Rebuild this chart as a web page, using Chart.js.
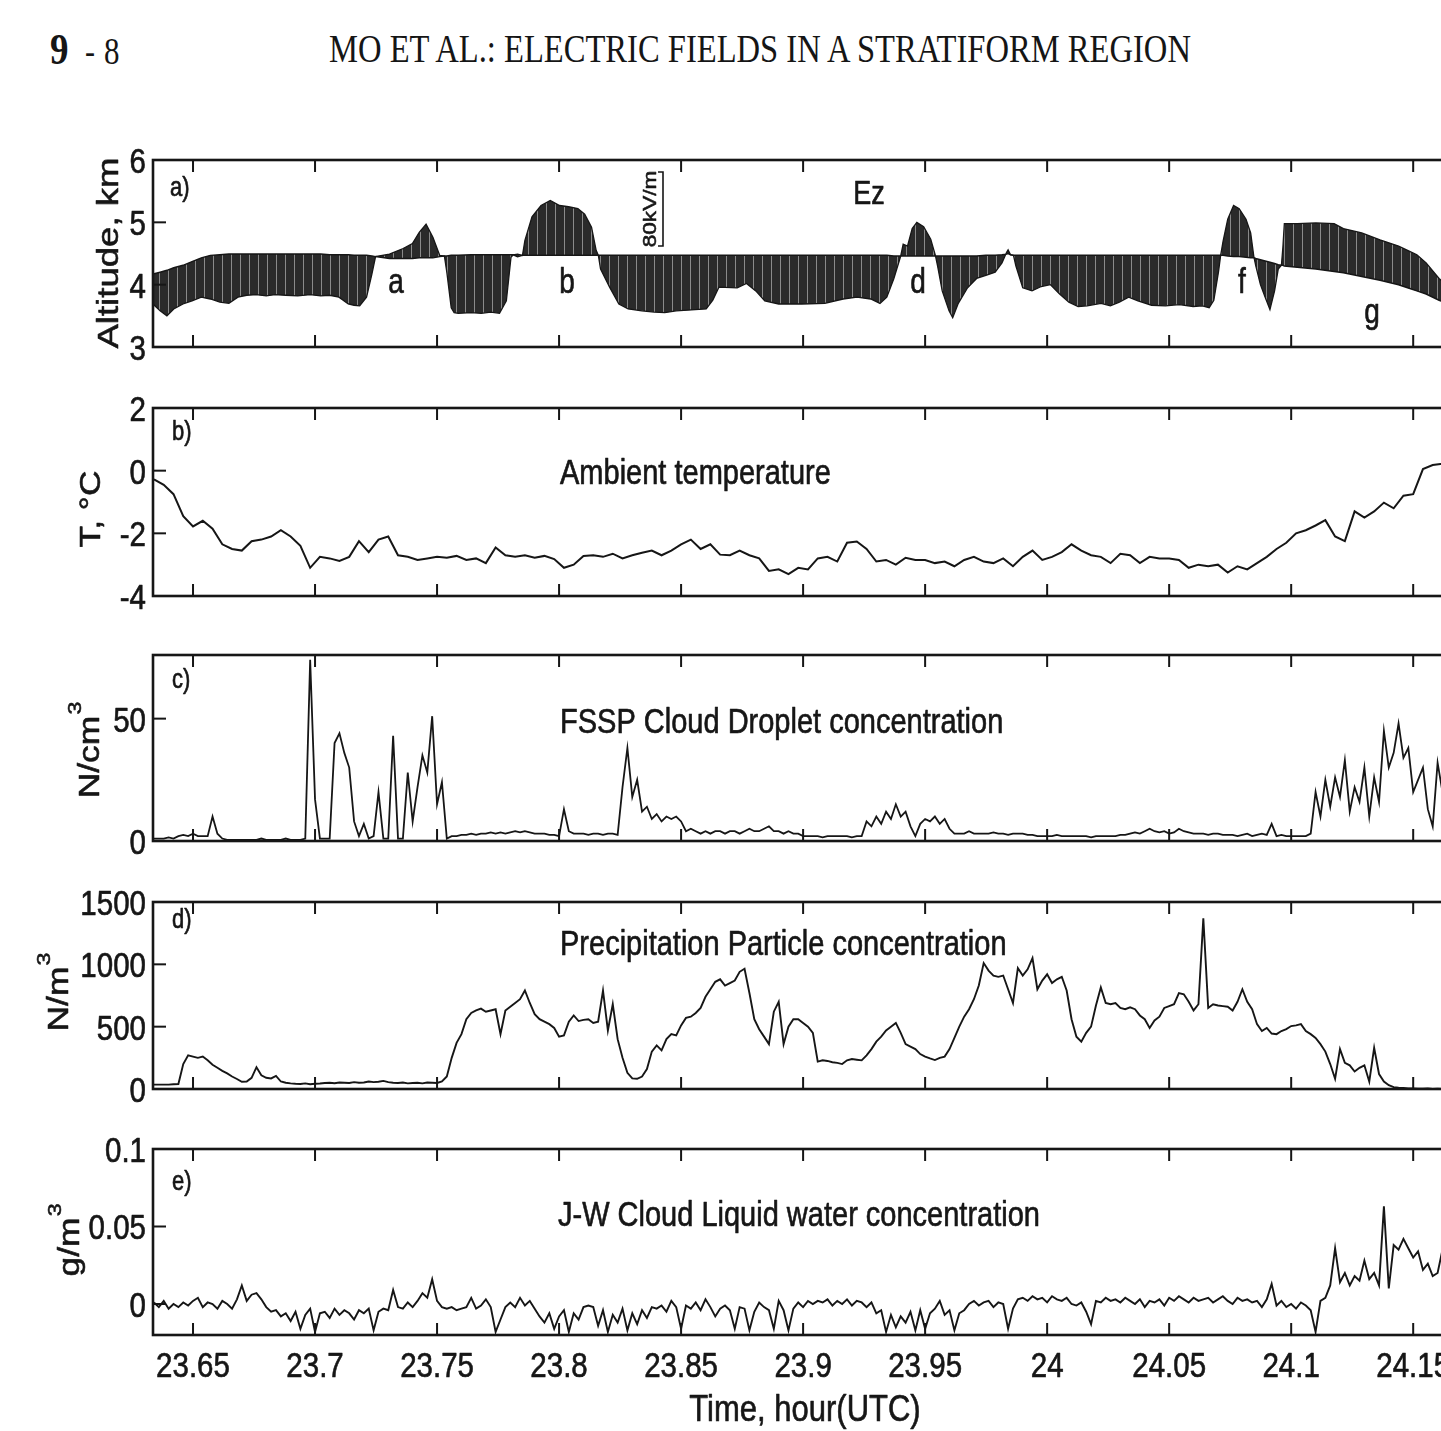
<!DOCTYPE html>
<html><head><meta charset="utf-8">
<script src="https://cdn.jsdelivr.net/npm/chart.js@4.4.0/dist/chart.umd.min.js"></script>
<style>
html,body{margin:0;padding:0;background:#fff;width:1441px;height:1431px;overflow:hidden;}
#wrap{position:relative;width:1441px;height:1431px;overflow:hidden;background:#fff;}
#wrap canvas{position:absolute;left:0;}
.hdr{position:absolute;font-family:"Liberation Serif","Times New Roman",serif;color:#151515;transform:scaleY(1.22);transform-origin:0 0;white-space:nowrap;line-height:1;}
</style></head><body><div id="wrap">
<div class="hdr" style="left:50px;top:26px;font-size:37px;font-weight:bold;">9</div>
<div class="hdr" style="left:85px;top:32px;font-size:30px;">-</div>
<div class="hdr" style="left:104px;top:32px;font-size:31px;">8</div>
<div class="hdr" style="left:260px;top:29px;width:1000px;text-align:center;font-size:32.6px;">MO ET AL.: ELECTRIC FIELDS IN A STRATIFORM REGION</div>
</div>
<script>
// ---------------- DATA ----------------
const xTickVals = [23.65, 23.7, 23.75, 23.8, 23.85, 23.9, 23.95, 24, 24.05, 24.1, 24.15];
const X_MIN = 23.6336, X_MAX = 24.17;

// panel a) Ez along the flight track: flight altitude (km) and Ez trace (altitude + scaled Ez, km)
const ezTime = [
 23.6336,23.6365,23.6393,23.6421,23.6459,23.6496,23.6534,23.6571,23.6610,23.6647,
 23.6684,23.6720,23.6759,23.6800,23.6835,23.6880,23.6929,23.6980,23.7023,23.7060,
 23.7098,23.7136,23.7160,23.7183,23.7211,23.7233,23.7248,23.7305,23.7361,23.7399,
 23.7427,23.7455,23.7483,23.7511,23.7530,23.7540,23.7558,23.7570,23.7587,23.7640,
 23.7681,23.7720,23.7756,23.7784,23.7803,23.7812,23.7830,23.7850,23.7860,23.7889,
 23.7926,23.7964,23.8002,23.8039,23.8077,23.8105,23.8133,23.8152,23.8161,23.8170,
 23.8207,23.8245,23.8283,23.8339,23.8390,23.8433,23.8480,23.8527,23.8603,23.8630,
 23.8655,23.8730,23.8768,23.8806,23.8843,23.8900,23.8994,23.9089,23.9164,23.9221,
 23.9277,23.9315,23.9343,23.9372,23.9400,23.9410,23.9428,23.9447,23.9466,23.9494,
 23.9523,23.9542,23.9551,23.9570,23.9598,23.9613,23.9636,23.9674,23.9711,23.9749,
 23.9787,23.9815,23.9834,23.9840,23.9850,23.9862,23.9872,23.9900,23.9938,23.9976,
 24.0013,24.0051,24.0089,24.0127,24.0164,24.0221,24.0259,24.0296,24.0334,24.0372,
 24.0428,24.0485,24.0542,24.0598,24.0636,24.0664,24.0683,24.0702,24.0711,24.0721,
 24.0740,24.0764,24.0787,24.0815,24.0834,24.0847,24.0855,24.0874,24.0893,24.0913,
 24.0932,24.0947,24.0960,24.0966,24.0972,24.1025,24.1101,24.1176,24.1214,24.1289,
 24.1364,24.1440,24.1477,24.1515,24.1553,24.1606,24.1620];
const flightAlt = [
 4.17,4.20,4.23,4.27,4.31,4.37,4.43,4.47,4.48,4.49,
 4.49,4.49,4.49,4.49,4.49,4.49,4.49,4.49,4.49,4.48,
 4.48,4.48,4.47,4.47,4.47,4.46,4.45,4.42,4.42,4.42,
 4.43,4.43,4.43,4.45,4.46,4.46,4.47,4.47,4.47,4.48,
 4.48,4.48,4.48,4.48,4.48,4.48,4.45,4.47,4.47,4.47,
 4.47,4.47,4.47,4.47,4.47,4.47,4.47,4.47,4.47,4.47,
 4.47,4.47,4.47,4.47,4.47,4.47,4.47,4.47,4.47,4.47,
 4.47,4.47,4.47,4.47,4.47,4.47,4.47,4.47,4.47,4.47,
 4.47,4.47,4.47,4.46,4.46,4.46,4.46,4.46,4.46,4.46,
 4.46,4.46,4.46,4.46,4.46,4.46,4.46,4.46,4.46,4.47,
 4.47,4.48,4.49,4.50,4.48,4.47,4.47,4.47,4.47,4.47,
 4.47,4.47,4.47,4.47,4.47,4.47,4.47,4.47,4.47,4.47,
 4.47,4.47,4.47,4.47,4.47,4.47,4.47,4.47,4.47,4.47,
 4.46,4.45,4.45,4.44,4.43,4.43,4.42,4.40,4.38,4.36,
 4.34,4.32,4.31,4.31,4.30,4.28,4.25,4.21,4.19,4.13,
 4.07,4.00,3.95,3.90,3.85,3.75,3.73];
const ezTrace = [
 3.69,3.58,3.50,3.61,3.69,3.74,3.80,3.77,3.72,3.70,
 3.80,3.83,3.84,3.82,3.84,3.83,3.82,3.84,3.82,3.83,
 3.80,3.69,3.67,3.66,3.80,4.17,4.45,4.49,4.58,4.66,
 4.84,4.97,4.76,4.47,4.46,4.20,3.63,3.55,3.54,3.55,
 3.54,3.56,3.54,3.74,4.44,4.48,4.49,4.47,4.71,5.09,
 5.27,5.35,5.27,5.25,5.22,5.13,4.92,4.55,4.47,4.25,
 3.96,3.69,3.61,3.58,3.56,3.55,3.58,3.59,3.61,3.75,
 3.96,3.95,4.02,3.90,3.74,3.69,3.69,3.70,3.77,3.80,
 3.77,3.70,3.80,4.10,4.46,4.65,4.62,4.90,5.00,4.93,
 4.73,4.47,4.30,3.90,3.58,3.47,3.70,3.95,4.10,4.15,
 4.20,4.35,4.52,4.56,4.48,4.47,4.30,3.95,3.90,3.97,
 4.00,3.85,3.72,3.65,3.66,3.70,3.66,3.72,3.80,3.74,
 3.67,3.66,3.68,3.65,3.66,3.63,3.75,4.20,4.47,4.70,
 5.05,5.27,5.22,5.05,4.83,4.45,4.30,4.00,3.80,3.60,
 3.90,4.25,4.31,4.60,4.98,4.98,4.99,4.98,4.90,4.83,
 4.72,4.62,4.55,4.48,4.35,4.10,4.05];

const T0 = 23.634, DT_FINE = 0.002, DT_TEMP = 0.004;

// panel b) ambient temperature, deg C (every 0.004 h)
const temperature = [
 -0.28,-0.45,-0.75,-1.45,-1.78,-1.6,-1.85,-2.35,-2.5,-2.55,
 -2.25,-2.2,-2.1,-1.9,-2.1,-2.4,-3.1,-2.75,-2.8,-2.88,
 -2.75,-2.25,-2.6,-2.2,-2.1,-2.7,-2.75,-2.85,-2.8,-2.75,
 -2.78,-2.72,-2.85,-2.8,-2.95,-2.45,-2.7,-2.75,-2.7,-2.78,
 -2.72,-2.82,-3.1,-3.0,-2.72,-2.7,-2.75,-2.65,-2.8,-2.7,
 -2.62,-2.55,-2.7,-2.55,-2.35,-2.2,-2.5,-2.35,-2.68,-2.7,
 -2.55,-2.7,-2.8,-3.2,-3.15,-3.3,-3.1,-3.15,-2.8,-2.75,
 -2.9,-2.3,-2.26,-2.5,-2.9,-2.85,-3.0,-2.78,-2.85,-2.85,
 -2.95,-2.9,-3.05,-2.85,-2.75,-2.9,-2.95,-2.8,-3.05,-2.75,
 -2.55,-2.85,-2.75,-2.6,-2.35,-2.55,-2.7,-2.75,-2.95,-2.65,
 -2.7,-2.95,-2.75,-2.8,-2.8,-2.85,-3.1,-3.0,-3.05,-3.0,
 -3.25,-3.05,-3.15,-2.95,-2.75,-2.5,-2.3,-2.0,-1.9,-1.75,
 -1.58,-2.1,-2.25,-1.3,-1.5,-1.3,-1.02,-1.2,-0.8,-0.75,
 0.05,0.18,0.22];

// panel c) FSSP cloud droplet concentration, N/cm^3 (every 0.002 h)
const dropletConc = [
 1,1,1,1.5,1,2,2.5,2,3,2,
 2,2,10,3,1,0.5,0.5,0.5,0.5,0.5,
 0.5,0.5,1,0.5,0.5,0.5,0.5,1,0.5,0.5,
 0.5,1,74,17,1,1,1,40,44,36,
 30,8,2,7,1,2,20,1,1,43,
 1,1,28,8,22,35,28,51,15,24,
 1,2,2,2.5,2.5,3,2.5,3,3,3.5,
 3,3.5,3,3.5,4,3.5,4,3.5,3,3,
 3,2.5,2.5,2,13,4,3,3,3,2.5,
 3,3,2.5,3,3,2.5,22,38,18,25,
 12,14,9,11,8,10,9,10,8,4,
 5,4,3,4,3,4,4,3,4,4,
 3,4,5,4,4,5,6,4,4,3,
 4,3,3,2,2,2,2,1.5,2,2,
 2,2,2,1.5,2,2,8,6,10,7,
 12,9,15,10,12,6,2,7,9,8,
 10,7,9,5,3,3,3,4,3,3,
 3,3,3.5,3,3,2.5,3,3,3,2.5,
 2.5,2,2,2,2,2.5,2,2,2,2,
 2,2,1.5,2,2,2,2,2,2.5,2.5,
 3,3.5,3,4,5,4,3.5,4,3,3.5,
 5,4,3.5,3,3,3,2.5,3,3,2.5,
 2.5,2.5,2,2.5,3,2,2.5,3,2.5,7,
 2,2.5,2,2,2,2,2,3,20,10,
 25,14,26,18,33,12,22,16,30,10,
 26,16,45,30,36,48,34,38,20,25,
 30,13,6,32,20];

// panel d) precipitation particle concentration, N/m^3 (every 0.002 h)
const precipConc = [
 35,35,35,35,38,40,200,270,260,250,
 260,230,195,170,145,125,100,80,58,60,
 90,175,110,90,85,105,60,50,45,42,
 40,45,38,42,44,48,50,46,52,50,
 48,55,50,52,60,55,58,65,55,50,
 48,52,45,48,50,45,52,50,48,60,
 100,250,370,440,560,610,630,645,620,630,
 640,440,630,660,690,720,790,690,600,560,
 540,520,490,420,430,540,590,545,555,560,
 530,540,790,470,680,400,250,130,85,82,
 100,160,300,350,310,400,440,430,510,570,
 580,610,650,740,800,860,880,830,850,870,
 940,965,770,560,480,420,360,620,700,360,
 500,560,560,530,500,450,220,230,225,215,
 210,200,230,240,235,230,270,320,380,420,
 470,500,530,450,360,340,320,280,260,245,
 232,250,260,320,410,500,580,640,720,830,
 1010,950,910,900,910,800,690,970,910,960,
 1050,800,870,920,850,880,900,790,560,420,
 380,450,500,670,815,690,680,690,650,640,
 655,640,590,560,490,550,580,650,665,680,
 770,760,700,630,680,1370,650,680,670,665,
 660,630,700,800,700,640,520,465,490,445,
 440,465,480,505,510,520,465,440,410,360,
 300,200,82,320,210,190,140,170,190,60,
 330,120,60,30,15,10,8,5,5,3,
 2,5,0,2,0];

// panel e) J-W cloud liquid water concentration, g/m^3 (every 0.002 h)
const liquidWater = [
 0.001,-0.002,0.002,-0.003,0,-0.002,0.001,-0.001,0.002,0.004,
 -0.002,0.001,0,-0.003,0.002,0,-0.003,0.003,0.012,0.002,
 0.006,0.007,0.003,-0.002,-0.005,-0.004,-0.008,-0.006,-0.011,-0.005,
 -0.016,-0.007,-0.003,-0.018,-0.006,-0.005,-0.009,-0.003,-0.007,-0.004,
 -0.006,-0.010,-0.004,-0.006,-0.003,-0.017,-0.005,-0.003,-0.004,0.009,
 -0.002,-0.003,0.001,-0.002,0.002,0.007,0.004,0.016,0.002,-0.002,
 -0.003,-0.002,-0.004,-0.003,-0.002,0.004,-0.003,-0.001,0.003,-0.002,
 -0.018,-0.010,-0.002,0.001,-0.002,0.004,-0.001,0.002,-0.003,-0.008,
 -0.012,-0.006,-0.016,-0.008,-0.004,-0.018,-0.006,-0.010,-0.002,-0.001,
 -0.002,-0.014,-0.004,-0.018,-0.007,-0.012,-0.003,-0.017,-0.006,-0.013,
 -0.004,-0.009,-0.002,-0.003,-0.001,-0.005,0.002,-0.002,-0.016,-0.001,
 -0.003,0.001,-0.004,0.003,-0.002,-0.008,-0.003,-0.001,-0.004,-0.016,
 -0.002,-0.003,-0.017,-0.005,0.001,-0.002,-0.004,-0.016,0.002,-0.004,
 -0.017,-0.003,0.001,-0.002,0.002,0.000,0.002,0.001,0.003,-0.001,
 0.002,0.000,0.003,-0.001,0.002,0.001,-0.002,0.001,-0.006,-0.004,
 -0.018,-0.007,-0.015,-0.008,-0.012,-0.005,-0.017,-0.004,-0.016,-0.006,
 -0.003,0.002,-0.007,-0.004,-0.017,-0.006,-0.004,0.000,0.002,-0.001,
 0.001,0.002,-0.002,0.001,0.000,-0.016,-0.003,0.003,0.004,0.002,
 0.005,0.003,0.004,0.001,0.005,0.003,0.002,0.004,0.000,-0.001,
 0.001,-0.005,-0.013,0.002,0.001,0.004,0.002,0.003,0.001,0.004,
 0.002,0.000,0.003,-0.002,0.002,0.001,0.003,-0.001,0.004,0.002,
 0.005,0.003,0.001,0.004,0.002,0.003,0.004,0.001,0.003,0.005,
 0.002,0.000,0.004,0.002,0.003,0.001,0.002,-0.002,0.003,0.013,
 -0.001,0.002,-0.002,0.000,-0.003,0.001,-0.001,-0.004,-0.018,0.002,
 0.004,0.012,0.036,0.014,0.020,0.012,0.018,0.015,0.028,0.016,
 0.020,0.012,0.063,0.010,0.038,0.035,0.042,0.036,0.030,0.034,
 0.022,0.026,0.018,0.020,0.035];

// ---------------- DRAWING ----------------
const SY = 1.22; // vertical stretch of the scanned lettering
const FONT = '"Liberation Sans", Arial, Helvetica, sans-serif';
const INK = '#161616';

function drawText(ctx, s, cx, cy, o) {
  o = o || {};
  const size = o.size || 29;
  ctx.save();
  ctx.translate(cx, cy);
  ctx.scale(1, SY);
  if (o.rot) ctx.rotate(-Math.PI / 2);
  ctx.fillStyle = INK;
  ctx.strokeStyle = INK;
  ctx.lineWidth = 0.55;
  ctx.lineJoin = 'round';
  ctx.textBaseline = 'alphabetic';
  ctx.textAlign = 'left';
  ctx.font = size + 'px ' + FONT;
  const w = ctx.measureText(s).width;
  const supSize = Math.round(size * 0.66);
  let ws = 0;
  if (o.sup) { ctx.font = supSize + 'px ' + FONT; ws = ctx.measureText(o.sup).width + 1; ctx.font = size + 'px ' + FONT; }
  const W = w + ws;
  const x0 = o.align === 'right' ? -W : (o.align === 'left' ? 0 : -W / 2);
  const capH = 0.716 * size;
  ctx.fillText(s, x0, capH / 2);
  ctx.strokeText(s, x0, capH / 2);
  if (o.sup) {
    ctx.font = supSize + 'px ' + FONT;
    ctx.fillText(o.sup, x0 + w + 1, capH / 2 - size * 0.64);
    ctx.strokeText(o.sup, x0 + w + 1, capH / 2 - size * 0.64);
  }
  ctx.restore();
}
const fmtX = v => String(+v.toFixed(2));

const panelDecor = {};
const decoPlugin = {
  id: 'deco',
  afterDraw(chart) {
    const d = panelDecor[chart.canvas.id];
    if (!d) return;
    const ctx = chart.ctx, a = chart.chartArea, xs = chart.scales.x, ys = chart.scales.y;
    const off = d.top;
    ctx.save();
    ctx.strokeStyle = INK;
    ctx.lineWidth = 2;
    xTickVals.forEach(v => {
      const px = xs.getPixelForValue(v);
      ctx.beginPath();
      ctx.moveTo(px, a.top); ctx.lineTo(px, a.top + 12);
      ctx.moveTo(px, a.bottom); ctx.lineTo(px, a.bottom - 12);
      ctx.stroke();
    });
    d.yTicks.forEach(v => {
      if (v <= ys.min || v >= ys.max) return;
      const py = ys.getPixelForValue(v);
      ctx.beginPath(); ctx.moveTo(a.left, py); ctx.lineTo(a.left + 13, py); ctx.stroke();
    });
    ctx.lineWidth = 2.6;
    ctx.strokeRect(a.left, a.top, a.right - a.left, a.bottom - a.top);
    if (d.bracket) {
      const b = d.bracket;
      ctx.lineWidth = 1.6;
      ctx.beginPath();
      ctx.moveTo(b.x - 5, b.y1 - off); ctx.lineTo(b.x, b.y1 - off); ctx.lineTo(b.x, b.y2 - off); ctx.lineTo(b.x - 5, b.y2 - off);
      ctx.stroke();
    }
    ctx.restore();
    d.yTicks.forEach(v => drawText(ctx, String(v), 146, ys.getPixelForValue(v), { align: 'right', size: 29.5 }));
    if (d.xLabels) xTickVals.forEach(v => drawText(ctx, fmtX(v), xs.getPixelForValue(v), 1364 - off, { size: 29.5 }));
    d.texts.forEach(t => drawText(ctx, t.s, t.x, t.y - off, t));
  }
};

function stripePattern() {
  const tile = document.createElement('canvas');
  tile.width = 9; tile.height = 4;
  const g = tile.getContext('2d');
  g.fillStyle = '#2a2a2a'; g.fillRect(0, 0, 9, 4);
  g.fillStyle = '#8a8a8a'; g.fillRect(6, 0, 1, 4);
  return g.createPattern(tile, 'repeat');
}

const pts = (times, vals) => vals.map((v, i) => ({ x: times[i], y: v }));
const ptsGrid = (vals, dt) => vals.map((v, i) => ({ x: +(T0 + i * dt).toFixed(4), y: v }));

const lineDs = (data, w) => ({ data, borderColor: INK, borderWidth: w, pointRadius: 0, tension: 0, fill: false });

const panels = [
  { id: 'pa', top: 140, h: 227, padB: 20, ymin: 3, ymax: 6, yTicks: [3, 4, 5, 6],
    datasets: [
      lineDs(pts(ezTime, flightAlt), 1.5),
      Object.assign(lineDs(pts(ezTime, ezTrace), 1.3), { fill: '-1', backgroundColor: stripePattern() })
    ],
    bracket: { x: 663, y1: 172, y2: 246 },
    texts: [
      { s: 'Altitude, km', x: 107, y: 253, rot: true, size: 30 },
      { s: 'a)', x: 170, y: 186, align: 'left', size: 22 },
      { s: 'Ez', x: 869, y: 192, size: 27 },
      { s: 'a', x: 396, y: 281, size: 28 },
      { s: 'b', x: 567, y: 281, size: 28 },
      { s: 'd', x: 918, y: 281, size: 28 },
      { s: 'f', x: 1242, y: 281, size: 28 },
      { s: 'g', x: 1372, y: 311, size: 28 },
      { s: '80kV/m', x: 649, y: 209, rot: true, size: 18.5 }
    ] },
  { id: 'pb', top: 388, h: 228, padB: 20, ymin: -4, ymax: 2, yTicks: [-4, -2, 0, 2],
    datasets: [lineDs(ptsGrid(temperature, DT_TEMP), 2)],
    texts: [
      { s: 'T, °C', x: 90, y: 509, rot: true, size: 29 },
      { s: 'b)', x: 172, y: 430, align: 'left', size: 22 },
      { s: 'Ambient temperature', x: 560, y: 471, align: 'left', size: 29 }
    ] },
  { id: 'pc', top: 635, h: 226, padB: 20, ymin: 0, ymax: 76, yTicks: [0, 50],
    datasets: [lineDs(ptsGrid(dropletConc, DT_FINE), 1.8)],
    texts: [
      { s: 'N/cm', sup: '3', x: 89, y: 750, rot: true, size: 29 },
      { s: 'c)', x: 172, y: 678, align: 'left', size: 22 },
      { s: 'FSSP Cloud Droplet concentration', x: 560, y: 720, align: 'left', size: 29 }
    ] },
  { id: 'pd', top: 882, h: 227, padB: 20, ymin: 0, ymax: 1500, yTicks: [0, 500, 1000, 1500],
    datasets: [lineDs(ptsGrid(precipConc, DT_FINE), 1.9)],
    texts: [
      { s: 'N/m', sup: '3', x: 58, y: 992, rot: true, size: 29 },
      { s: 'd)', x: 172, y: 918, align: 'left', size: 22 },
      { s: 'Precipitation Particle concentration', x: 560, y: 942, align: 'left', size: 29 }
    ] },
  { id: 'pe', top: 1129, h: 302, padB: 96, ymin: -0.02, ymax: 0.1, yTicks: [0, 0.05, 0.1], xLabels: true,
    datasets: [lineDs(ptsGrid(liquidWater, DT_FINE), 1.9)],
    texts: [
      { s: 'g/m', sup: '3', x: 69, y: 1240, rot: true, size: 29 },
      { s: 'e)', x: 172, y: 1180, align: 'left', size: 22 },
      { s: 'J-W Cloud Liquid water concentration', x: 558, y: 1213, align: 'left', size: 29 },
      { s: 'Time, hour(UTC)', x: 805, y: 1407, size: 31 }
    ] }
];

const wrap = document.getElementById('wrap');
panels.forEach(p => {
  const cv = document.createElement('canvas');
  cv.id = p.id; cv.width = 1480; cv.height = p.h;
  cv.style.top = p.top + 'px'; cv.style.width = '1480px'; cv.style.height = p.h + 'px';
  wrap.appendChild(cv);
  panelDecor[p.id] = { top: p.top, yTicks: p.yTicks, texts: p.texts, xLabels: !!p.xLabels, bracket: p.bracket };
  new Chart(cv.getContext('2d'), {
    type: 'line',
    data: { datasets: p.datasets },
    options: {
      responsive: false, animation: false, devicePixelRatio: 1,
      layout: { padding: { left: 153, right: 18, top: 20, bottom: p.padB } },
      plugins: { legend: { display: false }, tooltip: { enabled: false } },
      elements: { point: { radius: 0 }, line: { tension: 0 } },
      scales: {
        x: { type: 'linear', display: false, min: X_MIN, max: X_MAX },
        y: { type: 'linear', display: false, min: p.ymin, max: p.ymax }
      }
    },
    plugins: [decoPlugin]
  });
});
</script></body></html>
